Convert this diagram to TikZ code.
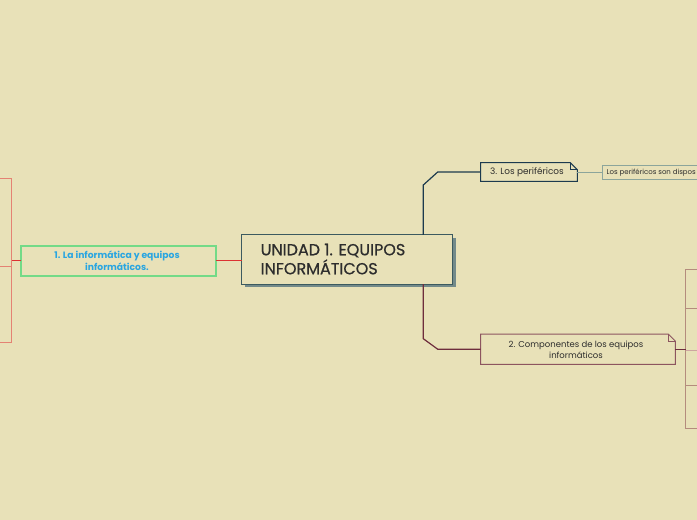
\documentclass[tikz,border=0pt]{standalone}
\usepackage{fontspec}
\setmainfont{Poppins}
\newfontfamily\semib[FakeBold=0.6]{Poppins}
\begin{document}
\begin{tikzpicture}[x=1pt,y=-1pt,
  plainbox/.style={draw=none,inner sep=0pt,outer sep=0pt,anchor=center},
  txt/.style={font=\fontsize{8}{11}\selectfont,text=ink,align=center},
]
\definecolor{bg}{RGB}{232,225,184}
\definecolor{ink}{RGB}{45,45,45}
\definecolor{navy}{RGB}{28,58,78}
\definecolor{maroon}{RGB}{110,45,60}
\definecolor{maroonb}{RGB}{140,85,95}
\definecolor{tealb}{RGB}{60,90,95}
\definecolor{shadowc}{RGB}{115,138,138}
\definecolor{redc}{RGB}{220,50,50}
\definecolor{salmon}{RGB}{228,130,115}
\definecolor{mintline}{RGB}{115,218,135}
\definecolor{bluet}{RGB}{40,165,225}
\definecolor{graygreen}{RGB}{140,165,155}
\definecolor{tanb}{RGB}{180,140,125}
\definecolor{pinkl}{RGB}{205,165,160}
\fill[bg] (0,0) rectangle (697,520);
\useasboundingbox (0,0) rectangle (697,520);
\begin{scope}
\clip (0,0) rectangle (697,520);
% left boxes
\node[plainbox,draw=salmon,line width=0.8pt,minimum width=80,minimum height=88.4] (la) at (-28.3,222.5) {};
\node[plainbox,draw=salmon,line width=0.8pt,minimum width=80,minimum height=75.6] (lb) at (-28.3,304.5) {};
% right boxes
\node[plainbox,draw=tanb,line width=0.7pt,minimum width=80,minimum height=39.3] (ra) at (725.7,288.7) {};
\node[plainbox,draw=tanb,line width=0.7pt,minimum width=80,minimum height=41.7] (rb) at (725.7,329.2) {};
\node[plainbox,draw=tanb,line width=0.7pt,minimum width=80,minimum height=35] (rc) at (725.7,367.5) {};
\node[plainbox,draw=tanb,line width=0.7pt,minimum width=80,minimum height=43] (rd) at (725.7,406.5) {};
\draw[pinkl,line width=0.6pt] (rb.south west) -- (rb.south east);
% small node
\node[plainbox,draw=graygreen,line width=0.8pt,fill=bg,minimum width=120,minimum height=14] (sn) at (662.3,172) {};
\node[anchor=west,inner sep=0pt,font=\fontsize{7}{8}\selectfont,text=ink] (snt) at (606.5,172.3) {Los periféricos son dispos};
\end{scope}
% central node with shadow
\fill[shadowc] (244.7,237.7) rectangle (455.7,287);
\node[plainbox,draw=tealb,line width=1.1pt,fill=bg,minimum width=211,minimum height=49.3] (cen) at (347.2,259.4) {};
\node[anchor=north west,inner sep=0pt,align=left,font=\fontsize{16}{19}\selectfont\semib,text=ink] (cent) at (260.5,243.5) {UNIDAD 1. EQUIPOS\\INFORMÁTICOS};
% node 1
\node[plainbox,minimum width=194.4,minimum height=30] (n1) at (118.5,260.7) {};
\draw[color=mintline,line width=1.7pt] (n1.south west) rectangle (n1.north east);
\node[txt,text=bluet,font=\fontsize{9.2}{12}\selectfont\bfseries] (n1t) at (117,261) {1. La informática y equipos\\informáticos.};
% node 3
\node[plainbox,minimum width=96.6,minimum height=18.6] (n3) at (529,172) {};
\draw[navy,line width=1pt,fill=bg] (n3.south west) -- (n3.north west) -- ([xshift=-7pt]n3.north east) -- ([yshift=-7pt]n3.north east) -- (n3.south east) -- cycle;
\draw[navy,line width=0.7pt] ([xshift=-7pt]n3.north east) -- ([xshift=-7pt,yshift=-7pt]n3.north east) -- ([yshift=-7pt]n3.north east);
\node[txt,font=\fontsize{8.9}{11}\selectfont] (n3t) at (527,172.3) {3. Los periféricos};
% node 2
\node[plainbox,minimum width=194.6,minimum height=30.3] (n2) at (578,349.2) {};
\draw[maroonb,line width=1pt,fill=bg] (n2.south west) -- (n2.north west) -- ([xshift=-7pt]n2.north east) -- ([yshift=-7pt]n2.north east) -- (n2.south east) -- cycle;
\draw[maroonb,line width=0.7pt] ([xshift=-7pt]n2.north east) -- ([xshift=-7pt,yshift=-7pt]n2.north east) -- ([yshift=-7pt]n2.north east);
\node[txt,font=\fontsize{8.5}{11}\selectfont] (n2t) at (576,349.5) {2. Componentes de los equipos\\informáticos};
% connectors
\coordinate (k3a) at (423.3,185);
\coordinate (k3b) at (437.7,172);
\coordinate (k2a) at (423.3,338.7);
\coordinate (k2b) at (437.7,349.2);
\draw[navy,line width=1.2pt] (k3a |- cen.north) -- (k3a) -- (k3b) -- (n3.west);
\draw[maroon,line width=1.2pt] (k2a |- cen.south) -- (k2a) -- (k2b) -- (n2.west);
\draw[redc,line width=1pt] (cen.west |- 0,260.5) -- (n1.east |- 0,260.5);
\draw[redc,line width=1pt] (n1.west |- 0,260.5) -- (la.south east |- 0,260.5);
\draw[graygreen,line width=1pt] (n3.east) -- (sn.west);
\draw[maroon,line width=1pt] (n2.east) -- (n2.east -| rb.west);
\end{tikzpicture}
\end{document}
